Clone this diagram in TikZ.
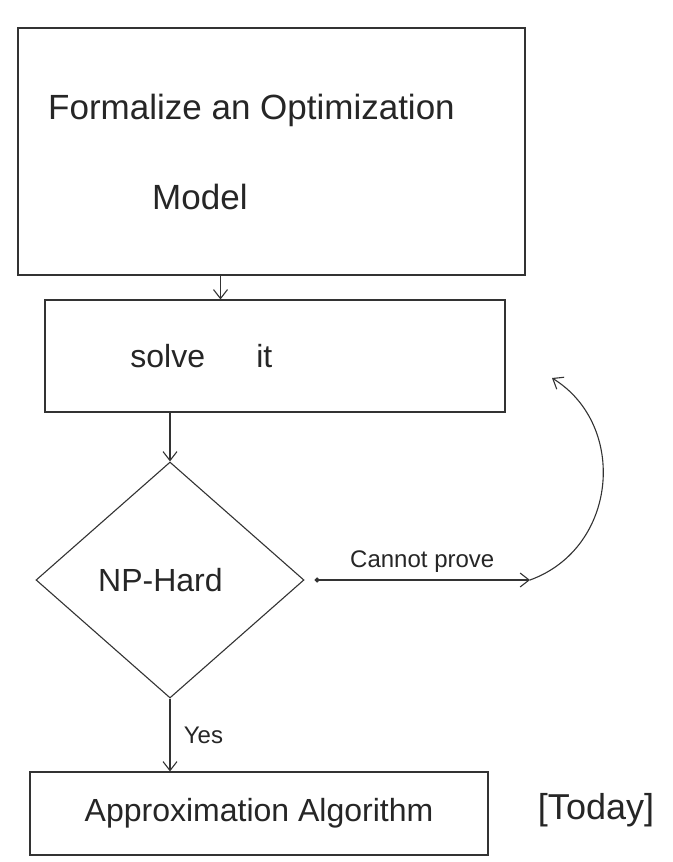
\documentclass[tikz,border=0pt]{standalone}
\usepackage{fontspec}
\setmainfont{Liberation Sans}
\usetikzlibrary{arrows.meta,shapes.geometric,calc}
\begin{document}
\begin{tikzpicture}[x=1pt,y=-1pt,
  ink/.style={draw=black!80, line width=1.1pt},
  procbox/.style={ink, rectangle, inner sep=0pt},
  bigtxt/.style={font=\fontsize{32}{38}\selectfont, text=black!85},
  smalltxt/.style={font=\fontsize{24}{28}\selectfont, text=black!85},
  flow/.style={ink, -{Straight Barb[length=9pt,width=14pt]}},
]
\useasboundingbox (0,0) rectangle (672,862);
\fill[white] (0,0) rectangle (672,862);

% boxes
\node[procbox, bigtxt, font=\fontsize{35}{40}\selectfont, align=left, minimum width=507pt, minimum height=247pt]
  (model) at (271.5,151.5) {Formalize an Optimization\hspace*{40pt}\\[50pt]\hspace*{104pt}Model};
\node[procbox, bigtxt, minimum width=460pt, minimum height=112pt]
  (solve) at (275,356) {solve\hspace*{1.6em}it\hspace*{4.6em}};
\node[ink, diamond, bigtxt, inner sep=0pt, aspect=1.14, minimum width=268pt, minimum height=236pt]
  (np) at (170,580) {NP-Hard\hspace*{0.6em}};
\node[procbox, bigtxt, minimum width=458pt, minimum height=83pt]
  (approx) at (259,813.5) {Approximation Algorithm};
\node[bigtxt, font=\fontsize{36}{42}\selectfont] (today) at (596,810) {[Today]};

% free ends of the "cannot prove" loop
\coordinate (cp) at (530,580);
\coordinate (ret) at (552,378);

% connectors
\draw[flow] ([xshift=-51pt]model.south) -- ([xshift=-51pt]model.south |- solve.north);
\draw[flow] (np.north |- solve.south) -- (np.north);
\draw[ink, {Circle[length=5pt]}-{Straight Barb[length=9pt,width=14pt]}] ([xshift=10pt]np.east) -- node[smalltxt, above=4pt] (cplabel) {Cannot prove} (cp);
\draw[flow] (cp) .. controls (618,548) and (628,425) .. (ret);
\draw[flow] (np.south) -- node[smalltxt, right=10pt] (yes) {Yes} (np.south |- approx.north);
\end{tikzpicture}
\end{document}
